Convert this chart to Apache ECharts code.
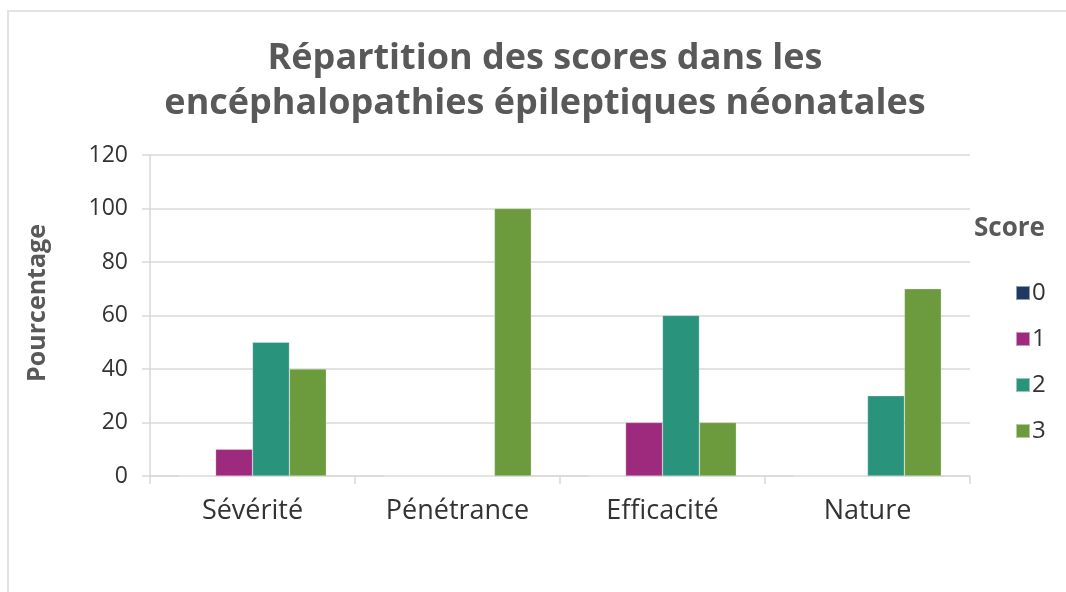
<!DOCTYPE html>
<html>
<head>
<meta charset="utf-8">
<script src="https://cdn.jsdelivr.net/npm/echarts@6/dist/echarts.min.js"></script>
<style>
  html, body { margin: 0; padding: 0; background: #fff; overflow: hidden; }
  #frame { position: absolute; left: 7px; top: 10px; width: 1200px; height: 700px; border: 2px solid #e3e3e3; box-sizing: border-box; }
  #main { position: absolute; left: 0; top: 0; width: 1066px; height: 592px; }
</style>
</head>
<body>
<div id="frame"></div>
<div id="main"></div>
<script>
// categories and series values
const categories = ['Sévérité', 'Pénétrance', 'Efficacité', 'Nature'];
const scoreNames = ['0', '1', '2', '3'];
const score0 = [0, 0, 0, 0];
const score1 = [10, 0, 20, 0];
const score2 = [50, 0, 60, 30];
const score3 = [40, 100, 20, 70];
const colors = ['#203864', '#9e2a7d', '#2a937c', '#6c9b3e'];

const allValues = [score0, score1, score2, score3];
const font = '"Open Sans", Lato, sans-serif';

let series = scoreNames.map(function (name, i) {
    return {
        name: name,
        type: 'bar',
        data: allValues[i],
        barGap: '0%',
        barCategoryGap: '28%',
        itemStyle: { color: colors[i], borderColor: 'rgba(255,255,255,0.5)', borderWidth: 0.5 }
    };
});

let option = {
    backgroundColor: 'transparent',
    textStyle: { fontFamily: font },
    title: {
        text: 'Répartition des scores dans les\nencéphalopathies épileptiques néonatales',
        left: 540,
        textAlign: 'center',
        top: 31,
        textStyle: { fontFamily: font, fontSize: 36, fontWeight: 'bold', color: '#595959', lineHeight: 45 }
    },
    legend: [{
        orient: 'vertical',
        left: 1010,
        top: 276,
        itemWidth: 14,
        itemHeight: 14,
        itemGap: 22,
        icon: 'rect',
        textStyle: { fontFamily: font, fontSize: 24, color: '#333', padding: [0, 0, 0, -3] },
        data: scoreNames
    }],
    graphic: [{
        type: 'text',
        left: 974,
        top: 216,
        style: { text: 'Score', fontFamily: font, fontSize: 26, fontWeight: 'bold', fill: '#595959' }
    }, {
        type: 'text',
        x: 38,
        y: 303,
        rotation: Math.PI / 2,
        style: {
            text: 'Pourcentage', fontFamily: font, fontSize: 25, fontWeight: 'bold', fill: '#595959',
            align: 'center', verticalAlign: 'middle'
        }
    }],
    grid: { left: 150, right: 96, top: 155, bottom: 116 },
    xAxis: {
        type: 'category',
        data: categories,
        axisLine: { lineStyle: { color: '#d9d9d9', width: 1.5 } },
        axisTick: { show: true, length: 8, lineStyle: { color: '#d9d9d9', width: 1.5 } },
        axisLabel: { fontFamily: font, fontSize: 27, color: '#333', margin: 22 }
    },
    yAxis: {
        type: 'value',
        min: 0,
        max: 120,
        interval: 20,
        axisLine: { show: true, lineStyle: { color: '#d9d9d9', width: 1.5 } },
        axisTick: { show: true, length: 8, lineStyle: { color: '#d9d9d9', width: 1.5 } },
        axisLabel: { fontFamily: font, fontSize: 23, color: '#333', margin: 22 },
        splitLine: { lineStyle: { color: '#d9d9d9', width: 1.5 } }
    },
    series: series
};

let myChart = echarts.init(document.getElementById('main'), null, { renderer: 'canvas' });
myChart.setOption(option);
</script>
</body>
</html>
